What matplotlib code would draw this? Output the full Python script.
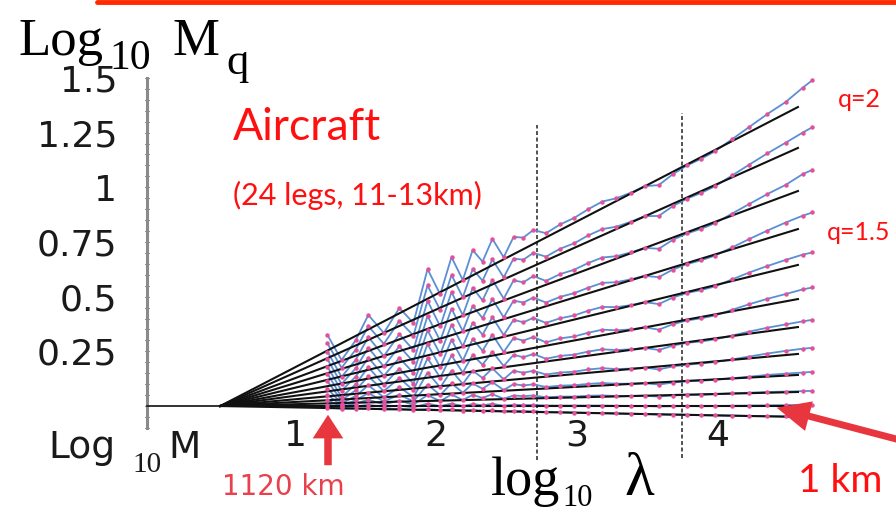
import matplotlib
matplotlib.use("Agg")
import numpy as np
import matplotlib.pyplot as plt
from matplotlib.ticker import FixedLocator
from matplotlib.lines import Line2D

# ---------------- data ----------------
log_lambda = [1.23, 1.33, 1.43, 1.52, 1.63, 1.74, 1.84, 1.94, 2.03, 2.11,
              2.19, 2.26, 2.33, 2.40, 2.48, 2.55, 2.62, 2.69, 2.78, 2.88,
              2.98, 3.08, 3.18, 3.28, 3.38, 3.48, 3.58, 3.68, 3.78, 3.88,
              3.98, 4.10, 4.22, 4.35, 4.48, 4.60, 4.67]

logM_01 = [0.325, 0.210, 0.300, 0.416, 0.334, 0.448, 0.380, 0.626, 0.510, 0.681,
           0.576, 0.713, 0.660, 0.764, 0.680, 0.773, 0.770, 0.805, 0.790, 0.830,
           0.860, 0.900, 0.935, 0.950, 0.975, 1.005, 1.010, 1.060, 1.100, 1.130,
           1.165, 1.220, 1.275, 1.335, 1.390, 1.455, 1.490]
logM_02 = [0.286, 0.175, 0.257, 0.365, 0.284, 0.389, 0.322, 0.551, 0.439, 0.599,
           0.497, 0.626, 0.573, 0.670, 0.588, 0.674, 0.669, 0.700, 0.683, 0.719,
           0.744, 0.780, 0.809, 0.820, 0.842, 0.868, 0.869, 0.914, 0.948, 0.974,
           1.005, 1.054, 1.103, 1.155, 1.204, 1.250, 1.275]
logM_03 = [0.249, 0.133, 0.211, 0.315, 0.228, 0.328, 0.256, 0.481, 0.364, 0.521,
           0.415, 0.540, 0.483, 0.577, 0.491, 0.574, 0.566, 0.594, 0.572, 0.603,
           0.623, 0.654, 0.679, 0.685, 0.702, 0.723, 0.719, 0.760, 0.789, 0.810,
           0.836, 0.880, 0.923, 0.969, 1.011, 1.060, 1.080]
logM_04 = [0.214, 0.101, 0.172, 0.266, 0.181, 0.273, 0.202, 0.412, 0.298, 0.445,
           0.342, 0.458, 0.402, 0.489, 0.405, 0.482, 0.473, 0.496, 0.473, 0.499,
           0.516, 0.541, 0.563, 0.566, 0.579, 0.595, 0.589, 0.624, 0.649, 0.666,
           0.688, 0.725, 0.763, 0.802, 0.839, 0.870, 0.885]
logM_05 = [0.180, 0.070, 0.134, 0.221, 0.138, 0.220, 0.151, 0.346, 0.237, 0.372,
           0.273, 0.381, 0.326, 0.406, 0.324, 0.394, 0.383, 0.403, 0.380, 0.401,
           0.414, 0.436, 0.453, 0.452, 0.461, 0.475, 0.466, 0.496, 0.517, 0.530,
           0.547, 0.579, 0.610, 0.640, 0.668, 0.692, 0.702]
logM_06 = [0.148, 0.041, 0.099, 0.178, 0.097, 0.171, 0.102, 0.284, 0.177, 0.303,
           0.207, 0.307, 0.253, 0.326, 0.247, 0.311, 0.299, 0.316, 0.291, 0.309,
           0.318, 0.335, 0.349, 0.346, 0.350, 0.360, 0.349, 0.374, 0.391, 0.401,
           0.414, 0.440, 0.465, 0.490, 0.512, 0.533, 0.542]
logM_07 = [0.113, 0.026, 0.072, 0.136, 0.068, 0.128, 0.071, 0.218, 0.130, 0.231,
           0.153, 0.233, 0.189, 0.248, 0.183, 0.234, 0.223, 0.238, 0.216, 0.229,
           0.235, 0.249, 0.259, 0.256, 0.259, 0.266, 0.256, 0.276, 0.289, 0.295,
           0.305, 0.322, 0.340, 0.358, 0.373, 0.387, 0.394]
logM_08 = [0.080, 0.011, 0.046, 0.094, 0.040, 0.086, 0.041, 0.153, 0.085, 0.162,
           0.101, 0.162, 0.128, 0.172, 0.122, 0.161, 0.152, 0.161, 0.144, 0.153,
           0.157, 0.167, 0.173, 0.169, 0.171, 0.176, 0.167, 0.181, 0.189, 0.194,
           0.201, 0.213, 0.226, 0.240, 0.252, 0.262, 0.266]
logM_09 = [0.051, 0.003, 0.026, 0.059, 0.021, 0.052, 0.021, 0.098, 0.050, 0.104,
           0.061, 0.103, 0.079, 0.109, 0.073, 0.100, 0.094, 0.099, 0.087, 0.093,
           0.095, 0.101, 0.105, 0.102, 0.102, 0.104, 0.098, 0.107, 0.113, 0.115,
           0.120, 0.127, 0.134, 0.142, 0.148, 0.153, 0.156]
logM_10 = [0.026, -0.002, 0.011, 0.029, 0.007, 0.025, 0.006, 0.050, 0.022, 0.053,
           0.027, 0.051, 0.037, 0.054, 0.033, 0.048, 0.045, 0.048, 0.040, 0.043,
           0.043, 0.047, 0.048, 0.046, 0.046, 0.047, 0.043, 0.048, 0.051, 0.051,
           0.054, 0.058, 0.061, 0.064, 0.066, 0.068, 0.069]
logM_11 = [0.006, -0.006, -0.002, 0.005, -0.004, 0.002, -0.006, 0.011, -0.001, 0.011,
           0.000, 0.009, 0.003, 0.010, 0.001, 0.006, 0.004, 0.005, 0.002, 0.002,
           0.002, 0.002, 0.002, 0.001, 0.000, 0.000, -0.002, -0.001, 0.000, -0.001,
           0.000, 0.001, 0.002, 0.003, 0.004, 0.005, 0.005]
logM_12 = [-0.007, -0.012, -0.012, -0.011, -0.016, -0.014, -0.019, -0.014, -0.019, -0.016,
           -0.021, -0.019, -0.022, -0.020, -0.025, -0.023, -0.024, -0.025, -0.027, -0.028,
           -0.030, -0.031, -0.032, -0.034, -0.036, -0.037, -0.039, -0.040, -0.040, -0.042,
           -0.043, -0.044, -0.045, -0.046, -0.047, -0.047, -0.046]

# fitted scaling lines: all start at the outer scale and end at these values
fit_start_x = 0.47
fit_end_x = 4.567
fit_end_values = [1.367, 1.180, 0.983, 0.809, 0.645, 0.489, 0.361, 0.238,
                  0.142, 0.064, 0.0, -0.05]

# vertical dashed scale breaks
break_x = [2.716, 3.745]
break_top = [1.285, 1.34]
break_bottom = [-0.247, -0.238]

y_ticks = [0.25, 0.5, 0.75, 1.0, 1.25, 1.5]
y_tick_labels = ["0.25", "0.5", "0.75", "1", "1.25", "1.5"]
x_ticks = [1, 2, 3, 4]
x_tick_labels = ["1", "2", "3", "4"]

# ---------------- figure ----------------
W, H = 896, 517
fig = plt.figure(figsize=(W / 100, H / 100), dpi=100)
ax = fig.add_axes([0, 0, 1, 1])
ax.set_facecolor("white")
X0, XS = 154, 141.0     # pixel of x=0, pixels per unit
Y0, YS = 406, 218.7     # pixel of y=0, pixels per unit
ax.set_xlim(-X0 / XS, (W - X0) / XS)
ax.set_ylim((Y0 - H) / YS, Y0 / YS)

BLUE = "#5b8fd3"
PINK = "#e4509a"
RED = "#ff1010"
ARROW = "#e8363f"

curves = [logM_01, logM_02, logM_03, logM_04, logM_05, logM_06,
          logM_07, logM_08, logM_09, logM_10, logM_11, logM_12]
for c in curves:
    ax.plot(log_lambda, c, color=BLUE, lw=1.3, zorder=2)
for end in fit_end_values:
    ax.plot([fit_start_x, fit_end_x], [0, end], color="#111111", lw=1.5, zorder=3)
for c in curves:
    ax.plot(log_lambda, c, ls="none", marker="o", ms=3.2, mew=0,
            color=PINK, zorder=4)

for bx, bt, bb in zip(break_x, break_top, break_bottom):
    ax.plot([bx, bx], [bb, bt], color="#444444", lw=1.3,
            ls=(0, (2.2, 1.4)), zorder=1)

# axes styling
for s in ("top", "right"):
    ax.spines[s].set_visible(False)
ax.spines["left"].set_position(("data", -0.05))
ax.spines["left"].set_bounds(-0.1, 1.5)
ax.spines["left"].set_color("#8a8a8a")
ax.spines["left"].set_linewidth(2.2)
ax.spines["bottom"].set_position(("data", 0))
ax.spines["bottom"].set_bounds(-0.05, fit_end_x)
ax.spines["bottom"].set_color("#222222")
ax.spines["bottom"].set_linewidth(1.3)

ax.yaxis.set_major_locator(FixedLocator(y_ticks))
ax.set_yticklabels(y_tick_labels)
ax.yaxis.set_minor_locator(FixedLocator(np.arange(-0.10, 1.5001, 0.05)))
ax.tick_params(axis="y", which="major", direction="inout", length=3,
               width=0.8, color="#333333", pad=20, labelsize=26,
               labelcolor="#1a1a1a")
ax.tick_params(axis="y", which="minor", direction="inout", length=2.5,
               width=0.8, color="#333333")
ax.xaxis.set_major_locator(FixedLocator(x_ticks))
ax.set_xticklabels(x_tick_labels)
ax.tick_params(axis="x", which="both", length=0, pad=9, labelsize=26,
               labelcolor="#1a1a1a")
for lab in ax.get_xticklabels() + ax.get_yticklabels():
    lab.set_family("DejaVu Sans")


def T(px, py, s, **kw):
    kw.setdefault("va", "baseline")
    kw.setdefault("ha", "left")
    fig.text(px / W, 1 - py / H, s, **kw)


SERIF = "Liberation Serif"
# y-axis title  Log10 Mq
T(18, 55, "Log", family=SERIF, size=38)
T(109, 69, "10", family=SERIF, size=30)
T(172, 55, "M", family=SERIF, size=38)
T(226, 74, "q", family=SERIF, size=32)

# Log10 M at origin
T(48, 458, "Log", family="DejaVu Sans", size=27, color="#1a1a1a")
T(132, 472, "10", family=SERIF, size=21, color="#1a1a1a")
T(168, 458, "M", family="DejaVu Sans", size=27, color="#1a1a1a")

# x-axis title log10 lambda
T(491, 495, "log", family=SERIF, size=39)
T(562, 506, "10", family=SERIF, size=22)
T(624, 495, "\u03bb", family=SERIF, size=44)

# annotations
T(233, 140, "Aircraft", family="Lato", size=32, color=RED)
T(233, 205, "(24 legs, 11-13km)", family="Lato", size=22, color=RED)
T(838, 107, "q=2", family="Lato", size=18, color=RED)
T(827, 240, "q=1.5", family="Lato", size=18, color=RED)
T(798, 492, "1 km", family="Lato", size=28, color=RED)
T(222, 495, "1120 km", family="DejaVu Sans", size=20, color="#e8404c")

# arrows
ax.annotate("", xy=((328 - X0) / XS, (Y0 - 412) / YS),
            xytext=((328 - X0) / XS, (Y0 - 468) / YS),
            arrowprops=dict(arrowstyle="simple,head_length=0.85,head_width=1.1,tail_width=0.27",
                            mutation_scale=20, color=ARROW, lw=0), zorder=6)
ax.annotate("", xy=((774 - X0) / XS, (Y0 - 407) / YS),
            xytext=((900 - X0) / XS, (Y0 - 440) / YS),
            arrowprops=dict(arrowstyle="simple,head_length=1.2,head_width=1.1,tail_width=0.25",
                            mutation_scale=20, color=ARROW, lw=0), zorder=6)

# red slide rule at the top
fig.add_artist(Line2D([97 / W, 1.0], [1 - 1.5 / H, 1 - 1.5 / H],
                      color="#ff2a00", lw=3.5, solid_capstyle="round"))

fig.savefig("out.png", dpi=100)
